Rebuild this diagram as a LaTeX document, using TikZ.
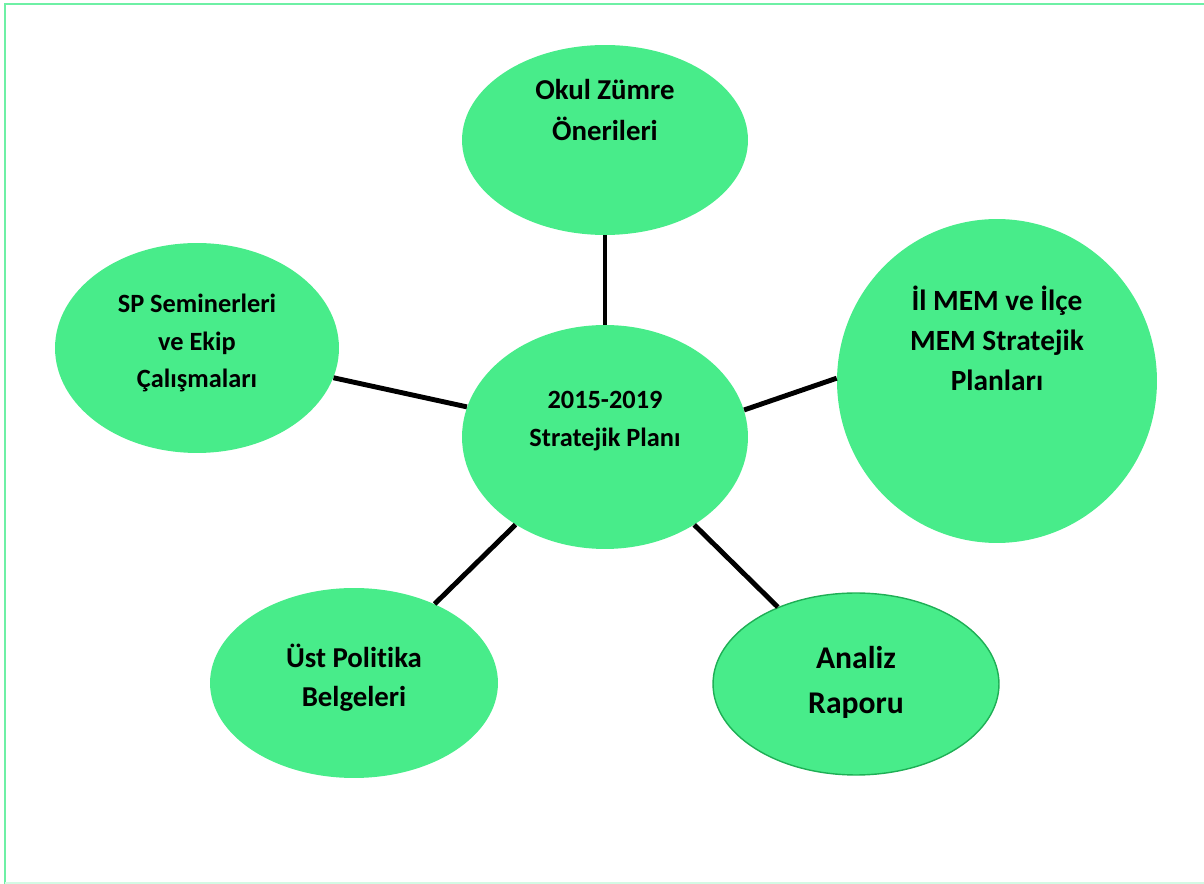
\documentclass[tikz,border=0pt]{standalone}
\usepackage{fontspec}
\setmainfont{Carlito}[Ligatures=NoCommon]
\usetikzlibrary{shapes.geometric}
\definecolor{bubblegreen}{RGB}{72,236,138}
\definecolor{framegreen}{RGB}{110,240,165}
\definecolor{edgegreen}{RGB}{30,175,85}
\newcommand{\txtsize}[2]{\bfseries\fontsize{#1}{#2}\selectfont}
\tikzset{
  bubble/.style={ellipse, fill=bubblegreen, inner sep=0pt},
  txt/.style={align=center},
  link/.style={line width=2.8pt, black}
}
\begin{document}
\begin{tikzpicture}[x=0.02cm,y=-0.02cm]
\useasboundingbox (0,0) rectangle (1204,884);
% frame
\draw[framegreen, line width=1.6pt] (5,884) -- (5,4) -- (1204,4);
\draw[framegreen!30, line width=0.8pt] (5,883) -- (1204,883);
% bubbles
\node[bubble, minimum width=5.72cm, minimum height=4.48cm,
  label={[txt,font=\txtsize{15}{21.6},yshift=0.32cm]center:2015-2019\\Stratejik Planı}] (plan) at (605,437) {};
\node[bubble, minimum width=5.72cm, minimum height=3.8cm,
  label={[txt,font=\txtsize{16.4}{22.8},yshift=0.6cm]center:Okul Zümre\\Önerileri}] (zumre) at (605,140) {};
\node[bubble, minimum width=5.68cm, minimum height=4.2cm,
  label={[txt,font=\txtsize{15}{21.6},yshift=0.1cm]center:SP Seminerleri\\ve Ekip\\Çalışmaları}] (seminer) at (197,348) {};
\node[bubble, minimum width=6.4cm, minimum height=6.48cm,
  label={[txt,font=\txtsize{16.7}{22.8},yshift=0.86cm]center:İl MEM ve İlçe\\MEM Stratejik\\Planları}] (ilmem) at (997,381) {};
\node[bubble, minimum width=5.76cm, minimum height=3.8cm,
  label={[txt,font=\txtsize{16.4}{22.2},yshift=0.1cm]center:Üst Politika\\Belgeleri}] (ust) at (354,683) {};
\node[bubble, draw=edgegreen, line width=0.8pt, minimum width=5.72cm, minimum height=3.64cm,
  label={[txt,font=\txtsize{18}{25.6},yshift=0.04cm]center:Analiz\\Raporu}] (analiz) at (856,684) {};
% links
\draw[link] (zumre) -- (plan);
\draw[link] (seminer) -- (plan);
\draw[link] (plan.11) -- (ilmem.179);
\draw[link] (ust) -- (plan);
\draw[link] (analiz) -- (plan);
\end{tikzpicture}
\end{document}
